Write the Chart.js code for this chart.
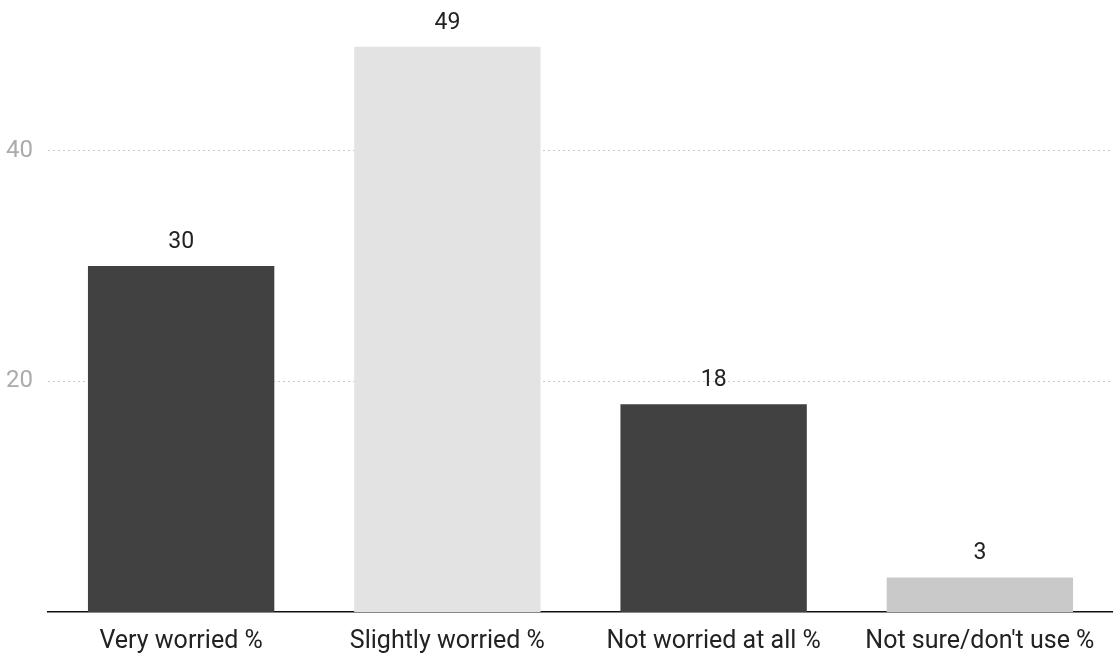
<!DOCTYPE html>
<html>
<head>
<meta charset="utf-8">
<script src="https://cdn.jsdelivr.net/npm/chart.js@4/dist/chart.umd.min.js"></script>
<style>
  html, body { margin: 0; padding: 0; background: #fff; }
  #wrap { width: 1113px; height: 657px; position: relative; }
</style>
</head>
<body>
<div id="wrap"><canvas id="c"></canvas></div>
<script>
// Survey responses (percent)
const categories = ["Very worried %", "Slightly worried %", "Not worried at all %", "Not sure/don't use %"];
const values = [30, 49, 18, 3];
const yTicks = [20, 40];
const barColors = ["#414141", "#e3e3e3", "#414141", "#c9c9c9"];

// Draws each bar's value above it
const valueLabels = {
  id: 'valueLabels',
  afterDatasetsDraw(chart) {
    const ctx = chart.ctx;
    const meta = chart.getDatasetMeta(0);
    ctx.save();
    ctx.font = '23px Roboto';
    ctx.fillStyle = '#222';
    ctx.textAlign = 'center';
    ctx.textBaseline = 'alphabetic';
    meta.data.forEach((bar, i) => {
      ctx.fillText(String(values[i]), bar.x, bar.y - 18);
    });
    ctx.restore();
  }
};

new Chart(document.getElementById('c'), {
  type: 'bar',
  data: {
    labels: categories,
    datasets: [{
      data: values,
      backgroundColor: barColors,
      borderWidth: 0,
      categoryPercentage: 0.7,
      barPercentage: 1.0
    }]
  },
  options: {
    responsive: true,
    maintainAspectRatio: false,
    animation: false,
    layout: { padding: 0 },
    plugins: { legend: { display: false }, tooltip: { enabled: false } },
    scales: {
      x: {
        afterFit(axis) { axis.height = 45; },
        grid: { display: false, drawTicks: false },
        border: { display: true, color: '#111', width: 1.5 },
        ticks: { color: '#222', font: { family: 'Roboto', size: 25 }, padding: 15, maxRotation: 0 }
      },
      y: {
        min: 0,
        max: 50.5,
        afterBuildTicks(axis) {
          axis.ticks = yTicks.map(v => ({ value: v }));
        },
        afterFit(axis) { axis.width = 48; },
        grid: { color: '#c8c8c8', drawTicks: false, lineWidth: 1 },
        border: { display: false, dash: [2, 3] },
        ticks: { color: '#ababab', font: { family: 'Roboto', size: 24 }, padding: 15 }
      }
    }
  },
  plugins: [valueLabels]
});
</script>
</body>
</html>
